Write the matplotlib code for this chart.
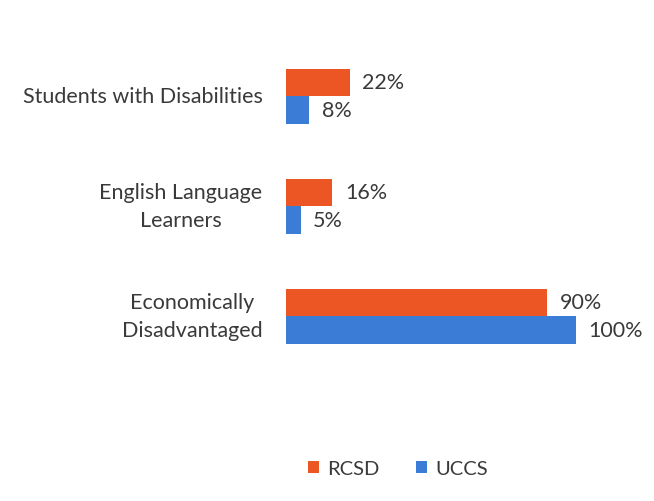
import matplotlib
matplotlib.use("Agg")
import matplotlib.pyplot as plt
from matplotlib.patches import Patch

categories = ["Students with Disabilities", "English Language\nLearners", "Economically\nDisadvantaged"]
series_names = ["RCSD", "UCCS"]
rcsd = [22, 16, 90]
uccs = [8, 5, 100]
colors = ["#EC5524", "#3A7CD6"]

plt.rcParams['font.family'] = ['Lato', 'DejaVu Sans']
W, H = 654, 502
fig = plt.figure(figsize=(W/100, H/100), dpi=100)
left, right = 286, 576
top, bottom = 42, 372
ax = fig.add_axes([left/W, 1-bottom/H, (right-left)/W, (bottom-top)/H])
ax.set_xlim(0, 100)
ax.set_ylim(2.5, -0.5)
ax.axis('off')

bh = 0.25
text_color = "#3a3a3a"
fs = 15.5
ypos = list(range(len(categories)))
for i, (vals, c) in enumerate(zip([rcsd, uccs], colors)):
    offs = -bh/2 if i == 0 else bh/2
    ys = [y + offs for y in ypos]
    ax.barh(ys, vals, height=bh, color=c, edgecolor='none')
    for y, v in zip(ys, vals):
        ax.annotate(f"{v}%", (v, y), xytext=(9, 0), textcoords='offset points',
                    ha='left', va='center', fontsize=fs, color=text_color,
                    annotation_clip=False)

for y, lab in zip(ypos, categories):
    ax.annotate(lab, (0, y), xytext=(-17, 0), textcoords='offset points',
                ha='right', va='center', multialignment='center',
                fontsize=fs, color=text_color, linespacing=1.5,
                annotation_clip=False)

handles = [Patch(facecolor=c, edgecolor='none', label=n) for c, n in zip(colors, series_names)]
fig.legend(handles=handles, loc='center', bbox_to_anchor=(398/W, 1-470/H), ncol=2,
           frameon=False, fontsize=14.5, handlelength=0.55, handleheight=0.55,
           handletextpad=0.4, columnspacing=1.8, labelcolor=text_color)

fig.savefig("out.png", dpi=100, facecolor='white')
